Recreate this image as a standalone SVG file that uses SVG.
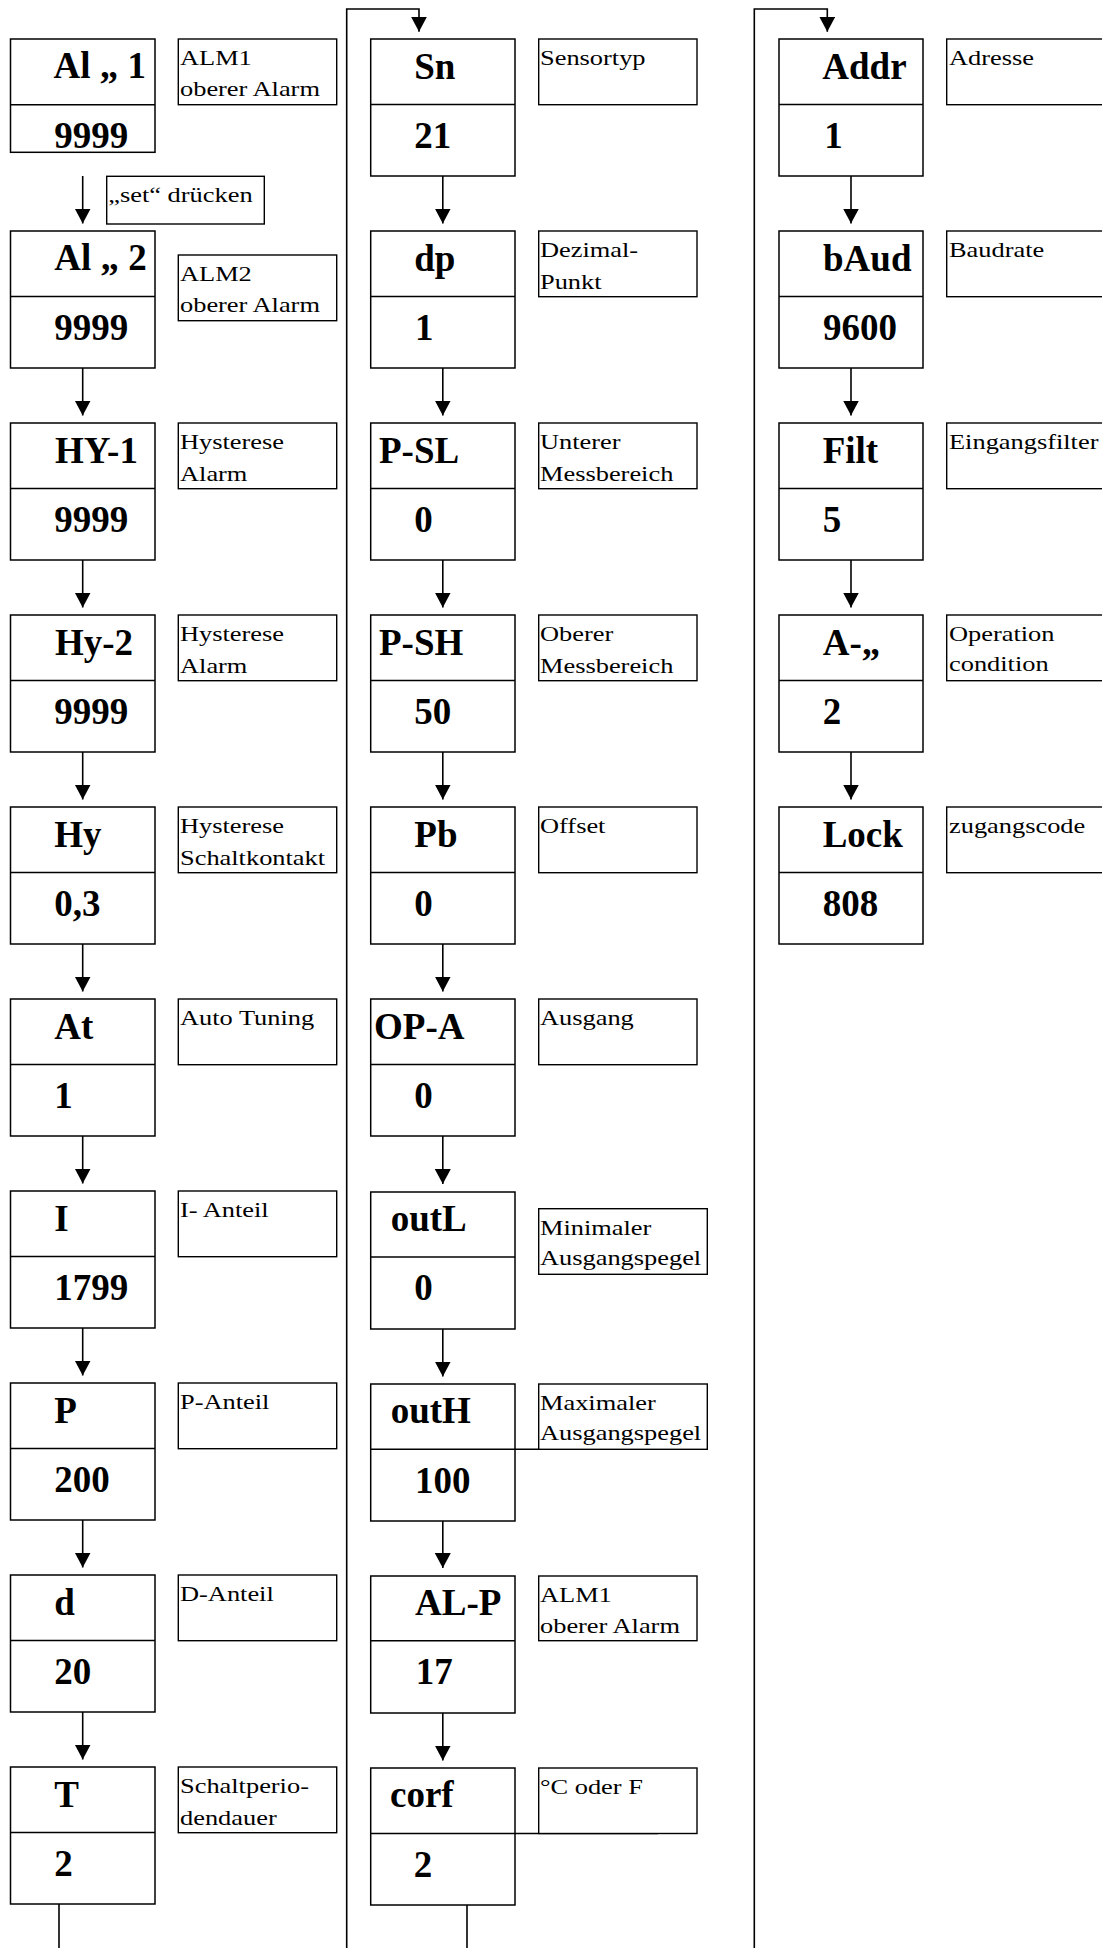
<svg xmlns="http://www.w3.org/2000/svg" width="1102" height="1948" viewBox="0 0 1102 1948">
<style>
.bx{fill:#fff;stroke:#000;stroke-width:1.5}
.dv{stroke:#000;stroke-width:1.5}
.lb{fill:#fff;stroke:#000;stroke-width:1.4}
.v{font-family:"Liberation Serif","Times New Roman",serif;font-weight:bold;font-size:37px;fill:#000}
.l{font-family:"Liberation Serif","Times New Roman",serif;font-size:22px;fill:#000}
.c{fill:none;stroke:#000;stroke-width:1.6}
</style>
<defs>
<marker id="ah" viewBox="0 0 15 16" markerWidth="15" markerHeight="16" refX="15" refY="8" orient="auto" markerUnits="userSpaceOnUse">
<path d="M0,0 L15,8 L0,16 z" fill="#000"/>
</marker>
</defs>
<rect width="1102" height="1948" fill="#fff"/>

<g id="connectors">
<path class="c" d="M82.7,176 V223.5" marker-end="url(#ah)"/>
<path class="c" d="M82.7,368 V415.5" marker-end="url(#ah)"/>
<path class="c" d="M82.7,560 V607.5" marker-end="url(#ah)"/>
<path class="c" d="M82.7,752 V799.5" marker-end="url(#ah)"/>
<path class="c" d="M82.7,944 V991.5" marker-end="url(#ah)"/>
<path class="c" d="M82.7,1136 V1183.5" marker-end="url(#ah)"/>
<path class="c" d="M82.7,1328 V1375.5" marker-end="url(#ah)"/>
<path class="c" d="M82.7,1520 V1567.5" marker-end="url(#ah)"/>
<path class="c" d="M82.7,1712 V1759.5" marker-end="url(#ah)"/>
<path class="c" d="M59,1904 V1948"/>
<path class="c" d="M346.7,1948 V9 H419 V31.7" marker-end="url(#ah)"/>
<path class="c" d="M442.8,176 V223.5" marker-end="url(#ah)"/>
<path class="c" d="M442.8,368 V415.5" marker-end="url(#ah)"/>
<path class="c" d="M442.8,560 V607.5" marker-end="url(#ah)"/>
<path class="c" d="M442.8,752 V799.5" marker-end="url(#ah)"/>
<path class="c" d="M442.8,944 V991.5" marker-end="url(#ah)"/>
<path class="c" d="M442.8,1136 V1184" marker-end="url(#ah)"/>
<path class="c" d="M442.8,1329 V1376.5" marker-end="url(#ah)"/>
<path class="c" d="M442.8,1521 V1568" marker-end="url(#ah)"/>
<path class="c" d="M442.8,1713 V1760.5" marker-end="url(#ah)"/>
<path class="c" d="M467,1905 V1948"/>
<path class="c" d="M754.3,1948 V9 H827.3 V31.7" marker-end="url(#ah)"/>
<path class="c" d="M851,176 V223.5" marker-end="url(#ah)"/>
<path class="c" d="M851,368 V415.5" marker-end="url(#ah)"/>
<path class="c" d="M851,560 V607.5" marker-end="url(#ah)"/>
<path class="c" d="M851,752 V799.5" marker-end="url(#ah)"/>
<path class="dv" d="M515,1449.3 H658"/>
<path class="dv" d="M515,1833.5 H658"/>
</g>

<!-- Column 1 -->
<g id="n-al1"><rect class="bx" x="10.5" y="39" width="144.5" height="113.3"/><path class="dv" d="M10.5,104.7 H155"/><text class="v" x="53.5" y="77.7">Al „ 1</text><text class="v" x="54.3" y="148.3">9999</text></g>
<g id="l-al1"><rect class="lb" x="178.3" y="39" width="158.4" height="65.7"/><text class="l" transform="translate(180,64.5) scale(1.2,1)"><tspan x="0" y="0">ALM1</tspan><tspan x="0" y="32">oberer Alarm</tspan></text></g>
<g id="l-set"><rect class="lb" x="106.7" y="176.3" width="157.6" height="47.7"/><text class="l" transform="translate(108.3,201.7) scale(1.2,1)">„set“ drücken</text></g>

<g id="n-al2"><rect class="bx" x="10.5" y="231" width="144.5" height="137"/><path class="dv" d="M10.5,296.5 H155"/><text class="v" x="54.3" y="270">Al „ 2</text><text class="v" x="54.3" y="339.5">9999</text></g>
<g id="l-al2"><rect class="lb" x="178.3" y="255" width="158.4" height="65.7"/><text class="l" transform="translate(180,280.5) scale(1.2,1)"><tspan x="0" y="0">ALM2</tspan><tspan x="0" y="32">oberer Alarm</tspan></text></g>

<g id="n-hy1"><rect class="bx" x="10.5" y="423" width="144.5" height="137"/><path class="dv" d="M10.5,488.5 H155"/><text class="v" x="55" y="462.5">HY-1</text><text class="v" x="54.3" y="531.5">9999</text></g>
<g id="l-hy1"><rect class="lb" x="178.3" y="423" width="158.4" height="65.7"/><text class="l" transform="translate(180,449) scale(1.2,1)"><tspan x="0" y="0">Hysterese</tspan><tspan x="0" y="32">Alarm</tspan></text></g>

<g id="n-hy2"><rect class="bx" x="10.5" y="615" width="144.5" height="137"/><path class="dv" d="M10.5,680.5 H155"/><text class="v" x="55" y="654.5">Hy-2</text><text class="v" x="54.3" y="723.5">9999</text></g>
<g id="l-hy2"><rect class="lb" x="178.3" y="615" width="158.4" height="65.7"/><text class="l" transform="translate(180,641) scale(1.2,1)"><tspan x="0" y="0">Hysterese</tspan><tspan x="0" y="32">Alarm</tspan></text></g>

<g id="n-hy"><rect class="bx" x="10.5" y="807" width="144.5" height="137"/><path class="dv" d="M10.5,872.5 H155"/><text class="v" x="54.3" y="846.5">Hy</text><text class="v" x="54.3" y="915.5">0,3</text></g>
<g id="l-hy"><rect class="lb" x="178.3" y="807" width="158.4" height="65.7"/><text class="l" transform="translate(180,833) scale(1.2,1)"><tspan x="0" y="0">Hysterese</tspan><tspan x="0" y="32">Schaltkontakt</tspan></text></g>

<g id="n-at"><rect class="bx" x="10.5" y="999" width="144.5" height="137"/><path class="dv" d="M10.5,1064.5 H155"/><text class="v" x="54.3" y="1038.5">At</text><text class="v" x="54.3" y="1107.5">1</text></g>
<g id="l-at"><rect class="lb" x="178.3" y="999" width="158.4" height="65.7"/><text class="l" transform="translate(180,1025) scale(1.2,1)">Auto Tuning</text></g>

<g id="n-i"><rect class="bx" x="10.5" y="1191" width="144.5" height="137"/><path class="dv" d="M10.5,1256.5 H155"/><text class="v" x="54.3" y="1230.5">I</text><text class="v" x="54.3" y="1299.5">1799</text></g>
<g id="l-i"><rect class="lb" x="178.3" y="1191" width="158.4" height="65.7"/><text class="l" transform="translate(180,1217) scale(1.2,1)">I- Anteil</text></g>

<g id="n-p"><rect class="bx" x="10.5" y="1383" width="144.5" height="137"/><path class="dv" d="M10.5,1448.5 H155"/><text class="v" x="54.3" y="1422.5">P</text><text class="v" x="54.3" y="1491.5">200</text></g>
<g id="l-p"><rect class="lb" x="178.3" y="1383" width="158.4" height="65.7"/><text class="l" transform="translate(180,1409) scale(1.2,1)">P-Anteil</text></g>

<g id="n-d"><rect class="bx" x="10.5" y="1575" width="144.5" height="137"/><path class="dv" d="M10.5,1640.5 H155"/><text class="v" x="54.3" y="1614.5">d</text><text class="v" x="54.3" y="1683.5">20</text></g>
<g id="l-d"><rect class="lb" x="178.3" y="1575" width="158.4" height="65.7"/><text class="l" transform="translate(180,1601) scale(1.2,1)">D-Anteil</text></g>

<g id="n-t"><rect class="bx" x="10.5" y="1767" width="144.5" height="137"/><path class="dv" d="M10.5,1832.5 H155"/><text class="v" x="54.3" y="1806.5">T</text><text class="v" x="54.3" y="1875.5">2</text></g>
<g id="l-t"><rect class="lb" x="178.3" y="1767" width="158.4" height="65.7"/><text class="l" transform="translate(180,1793) scale(1.2,1)"><tspan x="0" y="0">Schaltperio-</tspan><tspan x="0" y="32">dendauer</tspan></text></g>

<!-- Column 2 -->
<g id="n-sn"><rect class="bx" x="370.7" y="39" width="144.3" height="137"/><path class="dv" d="M370.7,104.5 H515"/><text class="v" x="414.3" y="78.5">Sn</text><text class="v" x="414.3" y="147.5">21</text></g>
<g id="l-sn"><rect class="lb" x="538.7" y="39" width="158.3" height="65.7"/><text class="l" transform="translate(540,65) scale(1.2,1)">Sensortyp</text></g>

<g id="n-dp"><rect class="bx" x="370.7" y="231" width="144.3" height="137"/><path class="dv" d="M370.7,296.5 H515"/><text class="v" x="414.3" y="270.5">dp</text><text class="v" x="415" y="339.5">1</text></g>
<g id="l-dp"><rect class="lb" x="538.7" y="231" width="158.3" height="65.7"/><text class="l" transform="translate(540,257) scale(1.2,1)"><tspan x="0" y="0">Dezimal-</tspan><tspan x="0" y="32">Punkt</tspan></text></g>

<g id="n-psl"><rect class="bx" x="370.7" y="423" width="144.3" height="137"/><path class="dv" d="M370.7,488.5 H515"/><text class="v" x="379" y="462.5">P-SL</text><text class="v" x="414.3" y="531.5">0</text></g>
<g id="l-psl"><rect class="lb" x="538.7" y="423" width="158.3" height="65.7"/><text class="l" transform="translate(540,449) scale(1.2,1)"><tspan x="0" y="0">Unterer</tspan><tspan x="0" y="32">Messbereich</tspan></text></g>

<g id="n-psh"><rect class="bx" x="370.7" y="615" width="144.3" height="137"/><path class="dv" d="M370.7,680.5 H515"/><text class="v" x="379" y="654.5">P-SH</text><text class="v" x="414.3" y="723.5">50</text></g>
<g id="l-psh"><rect class="lb" x="538.7" y="615" width="158.3" height="65.7"/><text class="l" transform="translate(540,641) scale(1.2,1)"><tspan x="0" y="0">Oberer</tspan><tspan x="0" y="32">Messbereich</tspan></text></g>

<g id="n-pb"><rect class="bx" x="370.7" y="807" width="144.3" height="137"/><path class="dv" d="M370.7,872.5 H515"/><text class="v" x="414.3" y="846.5">Pb</text><text class="v" x="414.3" y="915.5">0</text></g>
<g id="l-pb"><rect class="lb" x="538.7" y="807" width="158.3" height="65.7"/><text class="l" transform="translate(540,833) scale(1.2,1)">Offset</text></g>

<g id="n-opa"><rect class="bx" x="370.7" y="999" width="144.3" height="137"/><path class="dv" d="M370.7,1064.5 H515"/><text class="v" x="374" y="1038.5">OP-A</text><text class="v" x="414.3" y="1107.5">0</text></g>
<g id="l-opa"><rect class="lb" x="538.7" y="999" width="158.3" height="65.7"/><text class="l" transform="translate(540,1025) scale(1.2,1)">Ausgang</text></g>

<g id="n-outl"><rect class="bx" x="370.7" y="1192" width="144.3" height="137"/><path class="dv" d="M370.7,1257 H515"/><text class="v" x="390.7" y="1231">outL</text><text class="v" x="414.3" y="1300">0</text></g>
<g id="l-outl"><rect class="lb" x="538.7" y="1208.7" width="168.6" height="65.6"/><text class="l" transform="translate(540,1235) scale(1.2,1)"><tspan x="0" y="0">Minimaler</tspan><tspan x="0" y="30">Ausgangspegel</tspan></text></g>

<g id="n-outh"><rect class="bx" x="370.7" y="1384" width="144.3" height="137"/><path class="dv" d="M370.7,1449.3 H515"/><text class="v" x="390.7" y="1423">outH</text><text class="v" x="415" y="1492.5">100</text></g>
<g id="l-outh"><rect class="lb" x="538.7" y="1384" width="168.6" height="65.3"/><text class="l" transform="translate(540,1410) scale(1.2,1)"><tspan x="0" y="0">Maximaler</tspan><tspan x="0" y="30">Ausgangspegel</tspan></text></g>

<g id="n-alp"><rect class="bx" x="370.7" y="1576" width="144.3" height="137"/><path class="dv" d="M370.7,1640.7 H515"/><text class="v" x="415" y="1615">AL-P</text><text class="v" x="415.7" y="1684">17</text></g>
<g id="l-alp"><rect class="lb" x="538.7" y="1576" width="158.3" height="64.7"/><text class="l" transform="translate(540,1601.5) scale(1.2,1)"><tspan x="0" y="0">ALM1</tspan><tspan x="0" y="32">oberer Alarm</tspan></text></g>

<g id="n-corf"><rect class="bx" x="370.7" y="1768" width="144.3" height="137"/><path class="dv" d="M370.7,1833.5 H515"/><text class="v" x="390" y="1807">corf</text><text class="v" x="413.7" y="1876.5">2</text></g>
<g id="l-corf"><rect class="lb" x="538.7" y="1768" width="158.3" height="65.5"/><text class="l" transform="translate(540,1793.5) scale(1.2,1)">°C oder F</text></g>

<!-- Column 3 -->
<g id="n-addr"><rect class="bx" x="779" y="39" width="144" height="137"/><path class="dv" d="M779,104.5 H923"/><text class="v" x="822.3" y="78.5">Addr</text><text class="v" x="824.3" y="147.5">1</text></g>
<g id="l-addr"><rect class="lb" x="946.7" y="39" width="200" height="65.7"/><text class="l" transform="translate(949,65) scale(1.2,1)">Adresse</text></g>

<g id="n-baud"><rect class="bx" x="779" y="231" width="144" height="137"/><path class="dv" d="M779,296.5 H923"/><text class="v" x="823" y="270.5">bAud</text><text class="v" x="823" y="339.5">9600</text></g>
<g id="l-baud"><rect class="lb" x="946.7" y="231" width="200" height="65.7"/><text class="l" transform="translate(949,257) scale(1.2,1)">Baudrate</text></g>

<g id="n-filt"><rect class="bx" x="779" y="423" width="144" height="137"/><path class="dv" d="M779,488.5 H923"/><text class="v" x="822.7" y="462.5">Filt</text><text class="v" x="822.7" y="531.5">5</text></g>
<g id="l-filt"><rect class="lb" x="946.7" y="423" width="200" height="65.7"/><text class="l" transform="translate(949,449) scale(1.2,1)">Eingangsfilter</text></g>

<g id="n-acond"><rect class="bx" x="779" y="615" width="144" height="137"/><path class="dv" d="M779,680.5 H923"/><text class="v" x="822.7" y="654.5">A-„</text><text class="v" x="822.7" y="723.5">2</text></g>
<g id="l-acond"><rect class="lb" x="946.7" y="615" width="200" height="65.7"/><text class="l" transform="translate(949,641) scale(1.2,1)"><tspan x="0" y="0">Operation</tspan><tspan x="0" y="30">condition</tspan></text></g>

<g id="n-lock"><rect class="bx" x="779" y="807" width="144" height="137"/><path class="dv" d="M779,872.5 H923"/><text class="v" x="822.7" y="846.5">Lock</text><text class="v" x="822.7" y="915.5">808</text></g>
<g id="l-lock"><rect class="lb" x="946.7" y="807" width="200" height="65.7"/><text class="l" transform="translate(949,833) scale(1.2,1)">zugangscode</text></g>
</svg>
